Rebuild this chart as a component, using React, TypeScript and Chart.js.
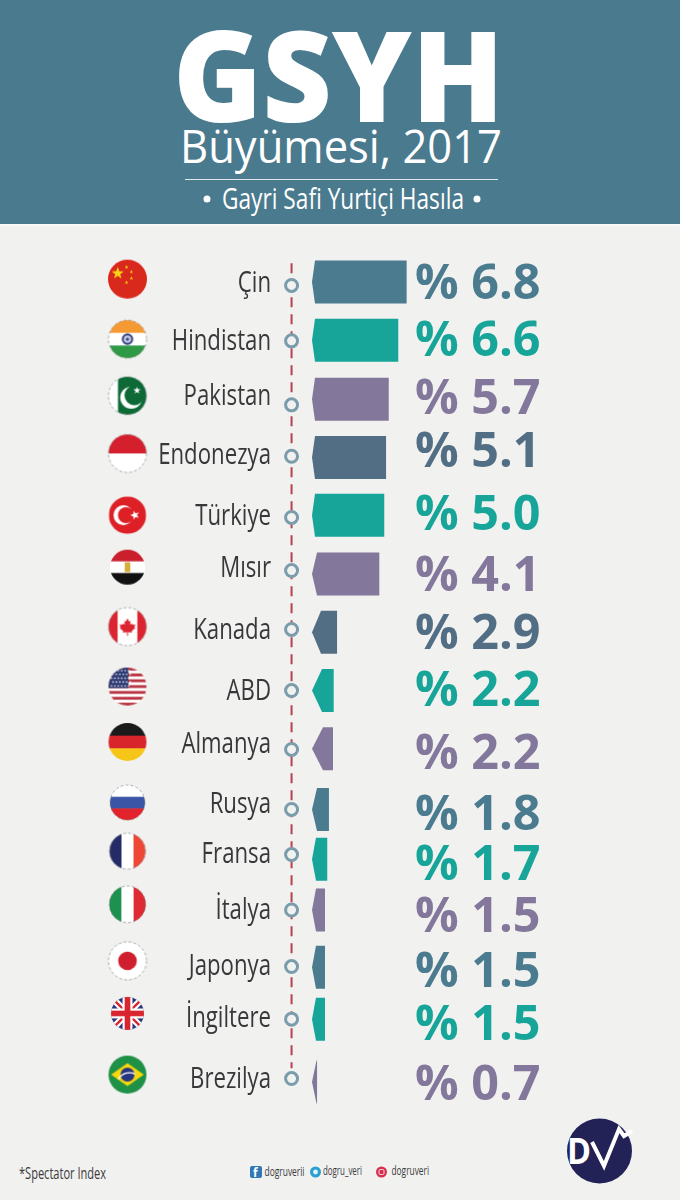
import React, { useEffect, useRef } from "react";
import { Chart, registerables } from "chart.js";

Chart.register(...registerables);

const countries = ["Çin", "Hindistan", "Pakistan", "Endonezya", "Türkiye", "Mısır", "Kanada", "ABD", "Almanya", "Rusya", "Fransa", "İtalya", "Japonya", "İngiltere", "Brezilya"];
const growth = ["6.8", "6.6", "5.7", "5.1", "5.0", "4.1", "2.9", "2.2", "2.2", "1.8", "1.7", "1.5", "1.5", "1.5", "0.7"];
// The reference's bars are not proportional to the printed values: these are the drawn lengths.
const barLengths = [6.76, 6.16, 5.48, 5.29, 5.16, 4.81, 1.79, 1.55, 1.5, 1.21, 1.09, 0.93, 0.93, 0.93, 0.36];
// The infographic's rows are hand-placed, so each column has slightly different row positions.
const barRows = [0, 1.02, 2.05, 3.07, 4.08, 5.11, 6.13, 7.15, 8.17, 9.23, 10.1, 10.99, 11.99, 12.9, 14];
const dotRows = [0.06, 1.03, 2.15, 3.05, 4.12, 5.05, 6.08, 7.15, 8.18, 9.23, 10.02, 10.99, 11.98, 12.9, 13.94];
const labelRows = [-0.01, 1, 1.96, 2.99, 4.06, 4.97, 6.05, 7.12, 8.06, 9.11, 9.98, 10.95, 11.93, 12.85, 13.92];
const valueRows = [0, 1, 2.01, 2.94, 4.05, 5.11, 6.12, 7.13, 8.22, 9.3, 10.17, 11.08, 12.04, 12.97, 14.01];
const flagRows = [-0.05, 1, 1.99, 3, 4.08, 4.99, 6.03, 7.08, 8.05, 9.11, 9.96, 10.89, 11.88, 12.8, 13.87];
const flagCodes = ["cn", "in", "pk", "id", "tr", "eg", "ca", "us", "de", "ru", "fr", "it", "jp", "gb", "br"];
const flagRadii = [19.5, 19, 19, 19, 18.7, 17.5, 19, 19, 19, 17.5, 18, 18.3, 19, 16.5, 19];

const STEEL = "#4a7b8f";
const TEAL = "#17a599";
const PURPLE = "#83779b";
const SLATE = "#526e85";
const rowColors = [STEEL, TEAL, PURPLE, SLATE, TEAL, PURPLE, SLATE, TEAL, PURPLE, STEEL, TEAL, PURPLE, STEEL, TEAL, PURPLE];
const tipDepths = [3, 3, 3, 3, 3, 5, 9, 10, 11, 5, 4, 4, 4, 4, 4.5];

const PAPER = "#f1f1f0";
const SANS = '"Open Sans", sans-serif';

function star(c: CanvasRenderingContext2D, x: number, y: number, r: number, color: string, rot = 0) {
  c.fillStyle = color;
  c.beginPath();
  for (let i = 0; i < 10; i++) {
    const a = -Math.PI / 2 + rot + (i * Math.PI) / 5;
    const rr = i % 2 ? r * 0.4 : r;
    c.lineTo(x + rr * Math.cos(a), y + rr * Math.sin(a));
  }
  c.closePath();
  c.fill();
}

function disc(c: CanvasRenderingContext2D, x: number, y: number, r: number, color: string) {
  c.fillStyle = color;
  c.beginPath();
  c.arc(x, y, r, 0, Math.PI * 2);
  c.fill();
}

function hBands(c: CanvasRenderingContext2D, r: number, colors: string[]) {
  const h = (2 * r) / colors.length;
  colors.forEach((col, i) => {
    c.fillStyle = col;
    c.fillRect(-r, -r + i * h, 2 * r, h + 0.5);
  });
}

function vBands(c: CanvasRenderingContext2D, r: number, colors: string[]) {
  const w = (2 * r) / colors.length;
  colors.forEach((col, i) => {
    c.fillStyle = col;
    c.fillRect(-r + i * w, -r, w + 0.5, 2 * r);
  });
}

const dashedEdge = new Set(["in", "pk", "id", "ca", "ru", "fr", "it", "jp"]);

function makeFlag(code: string, r: number) {
  const pad = 2;
  const size = Math.ceil(2 * r) + pad * 2;
  const cv = document.createElement("canvas");
  cv.width = size;
  cv.height = size;
  const c = cv.getContext("2d")!;
  c.translate(size / 2, size / 2);
  c.save();
  c.beginPath();
  c.arc(0, 0, r, 0, Math.PI * 2);
  c.clip();
  c.fillStyle = "#ffffff";
  c.fillRect(-r, -r, 2 * r, 2 * r);
  if (code === "cn") {
    c.fillStyle = "#d9291c";
    c.fillRect(-r, -r, 2 * r, 2 * r);
    star(c, -r * 0.5, -r * 0.3, r * 0.33, "#f7d417");
    star(c, -r * 0.05, -r * 0.62, r * 0.1, "#f7d417");
    star(c, r * 0.2, -r * 0.37, r * 0.1, "#f7d417");
    star(c, r * 0.2, -r * 0.05, r * 0.1, "#f7d417");
    star(c, -r * 0.05, r * 0.17, r * 0.1, "#f7d417");
  } else if (code === "in") {
    hBands(c, r, ["#f59a33", "#ffffff", "#2f9a45"]);
    disc(c, 0, 0, r * 0.3, "#2d3a80");
    disc(c, 0, 0, r * 0.2, "#c8cbe0");
    disc(c, 0, 0, r * 0.08, "#2d3a80");
  } else if (code === "pk") {
    c.fillStyle = "#0d6a37";
    c.fillRect(-r * 0.5, -r, r * 1.5 + r, 2 * r);
    disc(c, r * 0.2, r * 0.1, r * 0.58, "#ffffff");
    disc(c, r * 0.36, -r * 0.02, r * 0.52, "#0d6a37");
    star(c, r * 0.5, -r * 0.28, r * 0.2, "#ffffff");
  } else if (code === "id") {
    hBands(c, r, ["#d3202c", "#ffffff"]);
  } else if (code === "tr") {
    c.fillStyle = "#dd1f26";
    c.fillRect(-r, -r, 2 * r, 2 * r);
    disc(c, -r * 0.22, 0, r * 0.53, "#ffffff");
    disc(c, -r * 0.08, 0, r * 0.43, "#dd1f26");
    star(c, r * 0.4, 0, r * 0.26, "#ffffff", -Math.PI / 2);
  } else if (code === "eg") {
    hBands(c, r, ["#c9202c", "#ffffff", "#111111"]);
    c.fillStyle = "#d8ae3a";
    c.fillRect(-r * 0.16, -r * 0.28, r * 0.32, r * 0.56);
  } else if (code === "ca") {
    c.fillStyle = "#dc2430";
    c.fillRect(-r, -r, r * 0.48, 2 * r);
    c.fillRect(r * 0.52, -r, r * 0.48, 2 * r);
    const s = r * 0.44;
    const pts = [[0, -1], [0.2, -0.6], [0.38, -0.7], [0.3, -0.2], [0.52, -0.4], [0.62, -0.22], [0.95, -0.28], [0.82, 0.08], [0.95, 0.16], [0.5, 0.55], [0.55, 0.72], [0.06, 0.66], [0.06, 1.1], [-0.06, 1.1], [-0.06, 0.66], [-0.55, 0.72], [-0.5, 0.55], [-0.95, 0.16], [-0.82, 0.08], [-0.95, -0.28], [-0.62, -0.22], [-0.52, -0.4], [-0.3, -0.2], [-0.38, -0.7], [-0.2, -0.6]];
    c.beginPath();
    pts.forEach(([x, y]) => c.lineTo(x * s, y * s));
    c.closePath();
    c.fill();
  } else if (code === "us") {
    const n = 13;
    const h = (2 * r) / n;
    for (let i = 0; i < n; i++) {
      c.fillStyle = i % 2 ? "#ffffff" : "#b8323f";
      c.fillRect(-r, -r + i * h, 2 * r, h + 0.3);
    }
    c.fillStyle = "#2f3b73";
    c.fillRect(-r, -r, r * 1.05, h * 7);
    for (let yy = 0; yy < 5; yy++) {
      for (let xx = 0; xx < 6; xx++) {
        disc(c, -r + 3 + xx * (r * 0.18) + (yy % 2) * 1.5, -r + 3 + yy * (h * 1.3), 0.8, "#ffffff");
      }
    }
  } else if (code === "de") {
    hBands(c, r, ["#1a1a1a", "#d8252c", "#f5c518"]);
  } else if (code === "ru") {
    hBands(c, r, ["#ffffff", "#3a55a5", "#e2232b"]);
  } else if (code === "fr") {
    vBands(c, r, ["#232c66", "#ffffff", "#ee4735"]);
  } else if (code === "it") {
    vBands(c, r, ["#1e9150", "#ffffff", "#de2a33"]);
  } else if (code === "jp") {
    disc(c, 0, 0, r * 0.49, "#cf1f2e");
  } else if (code === "gb") {
    c.fillStyle = "#26357a";
    c.fillRect(-r, -r, 2 * r, 2 * r);
    c.lineCap = "butt";
    c.strokeStyle = "#ffffff";
    c.lineWidth = r * 0.4;
    c.beginPath();
    c.moveTo(-r, -r);
    c.lineTo(r, r);
    c.moveTo(r, -r);
    c.lineTo(-r, r);
    c.stroke();
    c.strokeStyle = "#d8252f";
    c.lineWidth = r * 0.14;
    c.stroke();
    c.fillStyle = "#ffffff";
    c.fillRect(-r, -r * 0.3, 2 * r, r * 0.6);
    c.fillRect(-r * 0.3, -r, r * 0.6, 2 * r);
    c.fillStyle = "#d8252f";
    c.fillRect(-r, -r * 0.17, 2 * r, r * 0.34);
    c.fillRect(-r * 0.17, -r, r * 0.34, 2 * r);
  } else if (code === "br") {
    c.fillStyle = "#1f9146";
    c.fillRect(-r, -r, 2 * r, 2 * r);
    c.fillStyle = "#f6d60f";
    c.beginPath();
    c.moveTo(-r * 0.86, 0);
    c.lineTo(0, -r * 0.6);
    c.lineTo(r * 0.86, 0);
    c.lineTo(0, r * 0.6);
    c.closePath();
    c.fill();
    disc(c, 0, 0, r * 0.37, "#25357f");
    c.strokeStyle = "#ffffff";
    c.lineWidth = 1.3;
    c.beginPath();
    c.arc(r * 0.1, r * 0.55, r * 0.65, -Math.PI * 0.85, -Math.PI * 0.35);
    c.stroke();
  }
  c.restore();
  if (dashedEdge.has(code)) {
    c.strokeStyle = "#8a8a8a";
    c.lineWidth = 0.7;
    c.setLineDash([3, 2]);
    c.beginPath();
    c.arc(0, 0, r, 0, Math.PI * 2);
    c.stroke();
  }
  return cv;
}

// Bars take their shape here; flag points sit left of the plot area, so they skip its in-area test.
const markShapes = {
  id: "markShapes",
  beforeDatasetDraw(chart: any, args: any) {
    if (args.meta.type === "bar") {
      args.meta.data.forEach((el: any, i: number) => {
        el.draw = (ctx: CanvasRenderingContext2D) => {
          const half = el.height / 2;
          const tip = tipDepths[i];
          ctx.save();
          ctx.fillStyle = rowColors[i];
          ctx.beginPath();
          ctx.moveTo(el.x, el.y - half);
          ctx.lineTo(Math.min(el.base + tip, el.x), el.y - half);
          ctx.lineTo(el.base, el.y);
          ctx.lineTo(Math.min(el.base + tip, el.x), el.y + half);
          ctx.lineTo(el.x, el.y + half);
          ctx.closePath();
          ctx.fill();
          ctx.restore();
        };
      });
    } else if (args.meta.controller.getDataset().isFlags) {
      args.meta.data.forEach((el: any) => {
        if (!el.__free) {
          const proto = Object.getPrototypeOf(el).draw;
          el.draw = (ctx: CanvasRenderingContext2D) => proto.call(el, ctx, undefined);
          el.__free = true;
        }
      });
    }
  },
};

// Category names come from the y scale's ticks; they are squeezed to the reference's condensed look.
const chartTexts = {
  id: "chartTexts",
  afterDatasetsDraw(chart: any) {
    const { ctx, scales } = chart;
    ctx.save();
    ctx.font = `400 30px ${SANS}`;
    ctx.textAlign = "right";
    ctx.textBaseline = "alphabetic";
    ctx.fillStyle = "#38383a";
    scales.y.ticks.forEach((t: any, i: number) => {
      const w = ctx.measureText(t.label).width;
      ctx.fillText(t.label, 271, scales.y.getPixelForTick(i) + 10.8, w * 0.74);
    });
    ctx.font = `700 48.5px ${SANS}`;
    ctx.textAlign = "left";
    growth.forEach((v, i) => {
      ctx.fillStyle = rowColors[i];
      ctx.fillText(`% ${v}`, scales.x.getPixelForValue(7.35), scales.y.getPixelForValue(valueRows[i]) + 17);
    });
    ctx.restore();
  },
};

const DASH_X = -1.46;
const FLAG_X = -13.18;

export default function App() {
  const ref = useRef<HTMLCanvasElement>(null);
  useEffect(() => {
    const flags = flagCodes.map((code, i) => makeFlag(code, flagRadii[i]));
    const chart = new Chart(ref.current!, {
      type: "bar",
      plugins: [markShapes, chartTexts],
      data: {
        datasets: [
          {
            type: "scatter",
            order: 0,
            data: dotRows.map((y) => ({ x: DASH_X, y })),
            pointRadius: 6,
            borderWidth: 3,
            pointBorderColor: "#7b9cab",
            pointBackgroundColor: PAPER,
            clip: false,
          },
          {
            type: "line",
            order: 1,
            data: [{ x: DASH_X, y: -0.33 }, { x: DASH_X, y: 13.76 }],
            borderColor: "#b8404f",
            borderWidth: 2,
            borderDash: [10, 7],
            pointRadius: 0,
            clip: false,
          },
          {
            type: "bar",
            order: 2,
            data: barLengths.map((x, i) => ({ x, y: barRows[i] })),
            backgroundColor: rowColors,
            barThickness: 43,
          },
          {
            type: "scatter",
            order: 3,
            isFlags: true,
            data: flagRows.map((y) => ({ x: FLAG_X, y })),
            pointStyle: (c: any) => flags[c.dataIndex],
            pointRadius: 18,
            clip: false,
          },
        ],
      } as any,
      options: {
        animation: false,
        responsive: false,
        indexAxis: "y",
        layout: { padding: 0, autoPadding: false },
        events: [],
        plugins: { legend: { display: false }, tooltip: { enabled: false }, title: { display: false } },
        scales: {
          x: { type: "linear", display: false, min: -1.5, max: 26.2857, offset: false, grid: { display: false } },
          y: {
            type: "linear",
            position: "left",
            reverse: true,
            offset: false,
            min: -4.935,
            max: 16.065,
            grid: { display: false, drawTicks: false, offset: false },
            border: { display: false },
            afterBuildTicks: (s: any) => {
              s.ticks = labelRows.map((value) => ({ value }));
            },
            afterFit: (s: any) => {
              s.width = 291;
              s.paddingTop = 0;
              s.paddingBottom = 0;
            },
            ticks: {
              display: true,
              autoSkip: false,
              color: "rgba(0,0,0,0)",
              font: { family: SANS, size: 30 },
              callback: (_v: any, i: number) => countries[i],
            },
          },
        },
      } as any,
    });
    return () => chart.destroy();
  }, []);

  return (
    <div style={{ position: "absolute", left: 0, top: 0, width: 680, height: 1200, background: PAPER, overflow: "hidden" }}>
      <svg width={680} height={1200} style={{ position: "absolute", left: 0, top: 0 }}>
        <rect x={0} y={0} width={680} height={224} fill="#4a7a8e" />
        <rect x={0} y={224} width={680} height={2} fill="#fafafa" />
        <text x={173} y={122} fill="#fff" fontFamily={SANS} fontWeight={800} fontSize={126} textLength={331} lengthAdjust="spacingAndGlyphs">GSYH</text>
        <text x={180} y={163} fill="#fff" fontFamily={SANS} fontWeight={400} fontSize={46} textLength={322} lengthAdjust="spacingAndGlyphs">Büyümesi, 2017</text>
        <rect x={185} y={179} width={313} height={1} fill="#dfe8ec" />
        <circle cx={207} cy={199} r={3.5} fill="#fff" />
        <text x={222} y={208.5} fill="#fff" fontFamily={SANS} fontSize={29.5} textLength={242} lengthAdjust="spacingAndGlyphs">Gayri Safi Yurtiçi Hasıla</text>
        <circle cx={477} cy={199} r={3.5} fill="#fff" />

        <text x={19} y={1179} fill="#3a3a3c" fontFamily={SANS} fontSize={16} textLength={87} lengthAdjust="spacingAndGlyphs">*Spectator Index</text>

        <rect x={250} y={1166} width={12} height={12} rx={2} fill="#2f78b5" />
        <text x={253} y={1177} fill="#fff" fontFamily={SANS} fontWeight={700} fontSize={12}>f</text>
        <text x={264.5} y={1176} fill="#3a3a3c" fontFamily={SANS} fontSize={12} textLength={40} lengthAdjust="spacingAndGlyphs">dogruverii</text>
        <circle cx={315.5} cy={1172} r={5.5} fill="#2a9fd6" />
        <circle cx={315.5} cy={1172} r={2.4} fill="#e8f4fa" />
        <text x={323} y={1175} fill="#3a3a3c" fontFamily={SANS} fontSize={12} textLength={39} lengthAdjust="spacingAndGlyphs">dogru_veri</text>
        <circle cx={381.5} cy={1172} r={5.5} fill="#d42f4e" />
        <rect x={379} y={1169.5} width={5} height={5} rx={1.2} fill="none" stroke="#f7d5dc" strokeWidth={1} />
        <text x={391.5} y={1175} fill="#3a3a3c" fontFamily={SANS} fontSize={12} textLength={37.5} lengthAdjust="spacingAndGlyphs">dogruveri</text>

        <circle cx={599.5} cy={1151} r={32.5} fill="#232257" />
        <text x={567} y={1164} fill="#fff" fontFamily={SANS} fontWeight={700} fontSize={36} textLength={24} lengthAdjust="spacingAndGlyphs">D</text>
        <path d="M592 1142 L604 1166 L619 1129 L624 1136 L632 1131" fill="none" stroke="#fff" strokeWidth={4} />
      </svg>
      <canvas ref={ref} width={680} height={1200} style={{ position: "absolute", left: 0, top: 0, display: "block" }} />
    </div>
  );
}
